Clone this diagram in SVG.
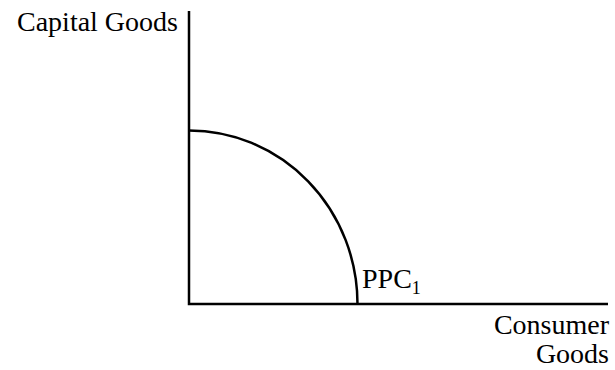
<svg xmlns="http://www.w3.org/2000/svg" width="615" height="370" viewBox="0 0 615 370">
<style>
.t{font-family:"Liberation Serif","Times New Roman",serif;font-size:28px;fill:#000}
.ax{stroke:#000;stroke-width:2.5;fill:none}
</style>
<rect width="615" height="370" fill="#fff"/>
<g id="axes">
<path class="ax" d="M189,11 V304 H608"/>
</g>
<g id="ppc">
<path class="ax" d="M189,130.5 A168.5,173.5 0 0 1 357.5,304"/>
</g>
<g id="labels">
<text class="t" x="178" y="31" text-anchor="end" font-size="29.5">Capital Goods</text>
<text class="t" x="609" y="334" text-anchor="end">Consumer</text>
<text class="t" x="609" y="363" text-anchor="end">Goods</text>
<text class="t" x="362" y="288">PPC<tspan font-size="18" dy="6">1</tspan></text>
</g>
</svg>
